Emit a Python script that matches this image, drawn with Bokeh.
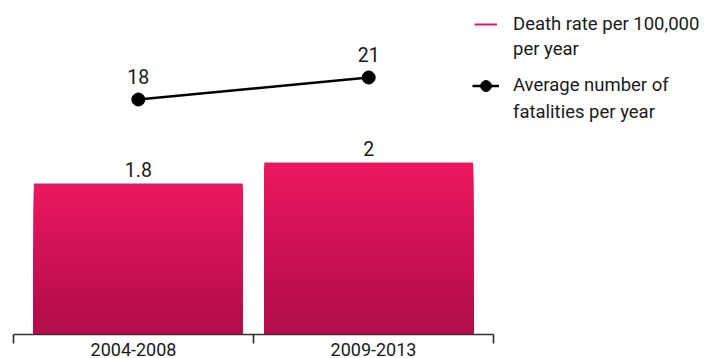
from bokeh.plotting import figure
from bokeh.models import Range1d, LinearAxis, FixedTicker, Legend, LegendItem
from bokeh.embed import file_html
from bokeh.resources import INLINE
from bokeh.core.properties import value

# ---- data ----
categories = ["2004-2008", "2009-2013"]
death_rate = [1.8, 2.0]          # per 100,000 per year (bars)
fatalities = [18, 21]            # average number of fatalities per year (line)
legend_rate = ["Death rate per 100,000", "per year"]
legend_fatal = ["Average number of", "fatalities per year"]

# ---- style ----
FONT = "Roboto"
FSIZE = "18.5px"
LSIZE = "19.5px"
TEXT = "#1a1a1a"
PINK = "#e8175d"
TOP = (0xEB, 0x17, 0x60)
BOT = (0xB0, 0x0C, 0x4A)
BAR_W = 0.87
SHIFT = [0.02, -0.02]
X_END = 2.879                    # frame extends under the legend
Y0, Y1 = 0.362, 3.543
F0, F1 = -14.05, 31.5
N = 60

p = figure(width=704, height=358, output_backend="svg", toolbar_location=None,
           x_range=Range1d(0, X_END), y_range=Range1d(Y0, Y1),
           x_axis_location=None, y_axis_location=None,
           min_border_left=13, min_border_right=0, min_border_top=0,
           min_border_bottom=24)
p.extra_y_ranges = {"fat": Range1d(F0, F1)}
p.grid.visible = False
p.outline_line_color = None

xs = [i + 0.5 + SHIFT[i] for i in range(len(categories))]

# gradient bars: nested bars, tallest (lightest) first, darker shorter ones on top
sx, st, sc = [], [], []
for x, v in zip(xs, death_rate):
    for k in range(N, 0, -1):
        f = (k - 0.5) / N
        col = "#%02x%02x%02x" % tuple(round(BOT[j] + (TOP[j] - BOT[j]) * f) for j in range(3))
        sx.append(x)
        st.append(Y0 + (v - Y0) * k / N)
        sc.append(col)
p.vbar(x=sx, bottom=Y0, top=st, width=BAR_W, fill_color=sc, line_color=None)

p.text(x=xs, y=death_rate, text=[f"{v:g}" for v in death_rate], text_align="center",
       text_baseline="bottom", y_offset=-7, text_font=value(FONT), text_font_size=LSIZE,
       text_color=TEXT)

# line series
p.line(x=xs, y=fatalities, y_range_name="fat", line_color="black", line_width=2.5)
p.scatter(x=xs, y=fatalities, y_range_name="fat", size=13, color="black")
p.text(x=xs, y=fatalities, text=[str(v) for v in fatalities], y_range_name="fat",
       text_align="center", text_baseline="bottom", y_offset=-15.5, text_font=value(FONT),
       text_font_size=LSIZE, text_color=TEXT)

# axis with ticks on category boundaries
ax = LinearAxis(ticker=FixedTicker(ticks=[i + 0.5 for i in range(len(categories))],
                                   minor_ticks=list(range(len(categories) + 1))),
                bounds=(0, len(categories)),
                major_label_overrides={i + 0.5: c for i, c in enumerate(categories)},
                major_tick_line_color=None, major_tick_in=0, major_tick_out=0,
                minor_tick_in=0, minor_tick_out=9, minor_tick_line_color="#222222",
                minor_tick_line_width=1.5, axis_line_color="#333333", axis_line_width=1.5,
                major_label_standoff=-1, major_label_text_font=FONT,
                major_label_text_font_size="18px", major_label_text_color=TEXT)
p.add_layout(ax, "below")

# legend (renderers placed below the visible range, used only for legend glyphs)
r_pink = p.line(x=[0, 0], y=[-10, -10], line_color=PINK, line_width=2)
r_blank = p.line(x=[0, 0], y=[-10, -10], line_alpha=0)
r_bl = p.line(x=[0, 0], y=[-10, -10], line_color="black", line_width=2.5)
r_bd = p.scatter(x=[0], y=[-10], size=13, color="black")


def mk_legend(items, loc, gw, gh, lh, standoff):
    return Legend(items=items, location=loc, border_line_color=None,
                  background_fill_alpha=0, padding=0, margin=0, spacing=0,
                  glyph_width=gw, glyph_height=gh, label_height=lh, label_standoff=standoff,
                  label_text_font=FONT, label_text_font_size=FSIZE, label_text_color=TEXT)


legA = mk_legend([LegendItem(label=legend_rate[0], renderers=[r_pink]),
                  LegendItem(label=legend_rate[1], renderers=[r_blank])],
                 (461, 272.5), 23, 20, 25, 16)
legB = mk_legend([LegendItem(label=legend_fatal[0], renderers=[r_bl, r_bd]),
                  LegendItem(label=legend_fatal[1], renderers=[r_blank])],
                 (459, 208.5), 27, 27, 24, 14)
p.add_layout(legA)
p.add_layout(legB)

open("out.html", "w").write(file_html(p, INLINE))
